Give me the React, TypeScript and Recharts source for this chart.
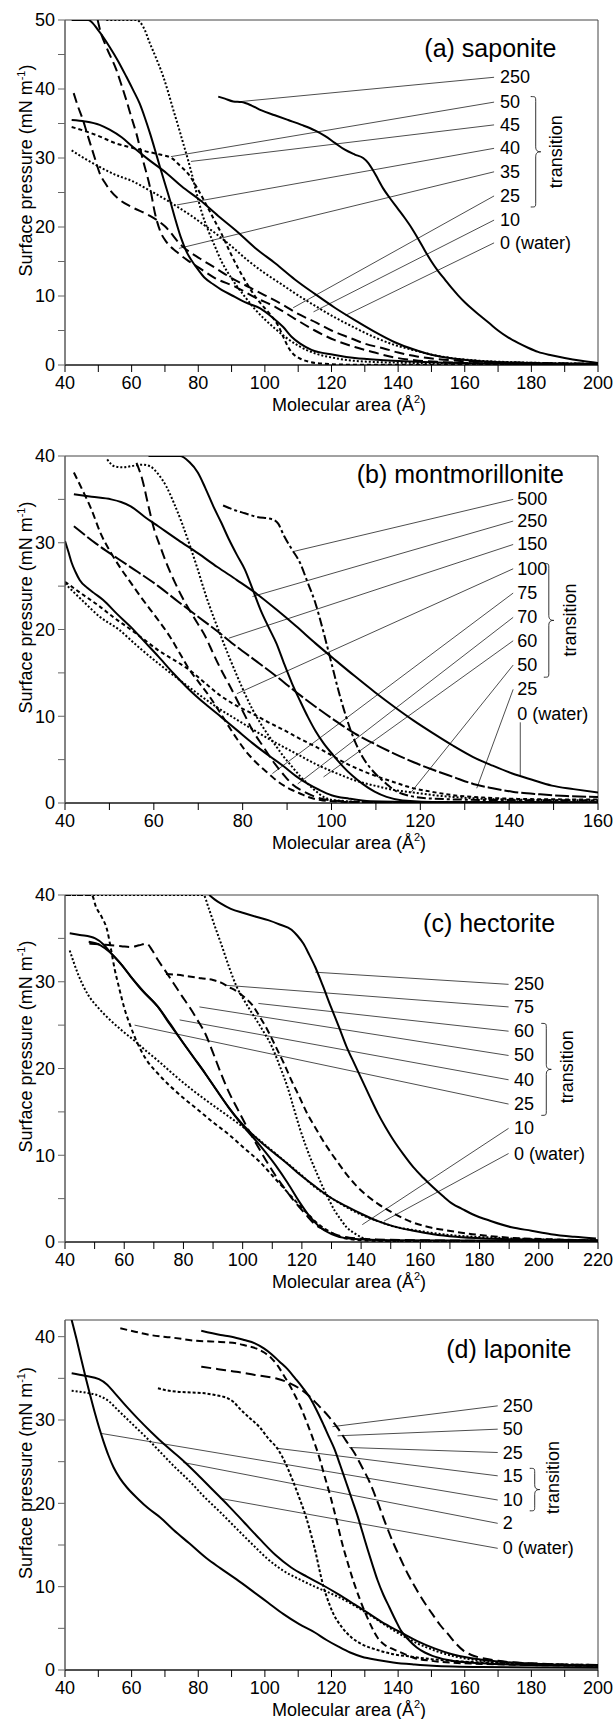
import React from 'react';
import { ComposedChart, Line, XAxis, YAxis, ReferenceLine, ReferenceArea, Scatter } from 'recharts';

type P = [number, number][];

// ---------- (a) saponite ----------
const a250: P = [[86,38.9],[88,38.6],[90.5,38.2],[93,38.1],[96,37.6],[99,36.9],[103,36.2],[107,35.5],[111,34.8],[115,34],[118,33.2],[121,32.2],[124,31.2],[127,30.5],[129.5,30],[131,29.3],[132.5,28.2],[134,26.9],[135.5,25.6],[137.5,24.2],[140,22.6],[142,21.3],[144,19.9],[146,18.3],[148,16.6],[150,15],[152,13.6],[154,12.4],[156,11.2],[158,10.1],[160,9.1],[162.5,8],[165,7],[167.5,6],[170,5],[173,4],[176,3.2],[179,2.5],[182,1.9],[186,1.4],[190,1],[195,0.6],[200,0.3]];
const a50: P = [[42,34.5],[46,33.9],[50,33.2],[55.4,32.1],[60,31.5],[64,31],[68.5,30.5],[72,30],[74.5,28.9],[77,27.7],[79.5,25.8],[82,23.6],[84.5,21.3],[87,19],[89.5,16.4],[92,14],[94.5,11.9],[97,10],[99.5,8.5],[102,7.1],[104,5.7],[105.6,4],[107,2.6],[108.5,1.6],[110.3,1],[113,0.5],[117,0.2],[125,0.05],[200,0]];
const a45: P = [[52.4,50],[61.4,50],[63.5,49],[65.5,46.6],[67.5,44.3],[69.5,41.8],[71,39.5],[72.5,37],[74,34.6],[75.5,32.1],[77,29.6],[78,27.8],[79.5,24.9],[81,22.2],[83,19.5],[85,17.2],[87,15],[89,13.3],[91.5,11.5],[94,9.9],[97,8.1],[100,6.6],[103,5.3],[106,4.1],[110,2.8],[115,1.7],[121,1],[130,0.5],[145,0.3],[200,0.1]];
const a40: P = [[42,31.1],[46,29.9],[50.4,28.7],[55,27.6],[60.4,26.6],[65,25.4],[70.5,23.9],[73.5,23],[78,21.6],[82,20.2],[85.4,19],[90,17.2],[95,15.1],[100,13.3],[105,11.7],[109,10.4],[115,8.6],[121,6.9],[127,5.4],[133,4],[139,2.9],[145,2.1],[151,1.4],[157,0.95],[165,0.6],[175,0.4],[188,0.25],[200,0.15]];
const a35: P = [[49.8,50],[50.5,48.6],[52.5,46],[55.4,42.8],[57,40.5],[58.4,38.4],[60,35.8],[61.4,33.6],[63.5,29.5],[65.5,25.8],[67,22],[68.5,19.5],[70.5,17.8],[73.5,16.4],[77,15.1],[80.5,14],[85,12.6],[91.3,11.3],[97,9.8],[103.2,8.4],[109,6.7],[115,5],[121,3.6],[127,2.6],[133,1.8],[138.8,1.1],[145,0.7],[152,0.45],[165,0.25],[200,0.1]];
const a25: P = [[42.6,39.4],[43.8,37.6],[45.4,35.5],[46.6,33.6],[47.9,31.6],[49.2,29.6],[50.4,27.8],[52,26.4],[53.4,25.4],[56,24.1],[60,22.9],[65.2,21.7],[70,20.1],[75,17.3],[80.6,15.4],[85,14.1],[90,12.6],[95.6,11.2],[100,10.1],[105.5,8.7],[110,7.4],[115.6,6.1],[120,5],[125.7,3.9],[130,3.1],[135.7,2.4],[140,1.8],[146,1.2],[152,0.85],[160,0.55],[175,0.35],[200,0.2]];
const a10: P = [[42,50],[47,50],[50,48.5],[53.4,46.1],[56,44],[58.4,41.8],[60.5,39.8],[62.4,37.9],[64,35.8],[65.5,33.6],[67,31.2],[68.5,28.7],[70,26.3],[71.5,23.9],[73,21.3],[74.7,18.6],[76.5,16.4],[78.2,15],[80,13.8],[82,12.6],[84.5,11.7],[87,10.9],[90.5,10],[94,9.1],[98.6,8.2],[102,7],[105.5,5.5],[108,4.1],[110.6,3.1],[114,2.2],[120.6,1.5],[127,1],[135.7,0.7],[150,0.4],[170,0.2],[200,0.1]];
const a0: P = [[42,35.5],[46,35.3],[50.4,34.8],[53.4,34.1],[57,33],[60.4,31.6],[65,29.8],[70.5,27.8],[75,25.9],[80.5,23.9],[86,21.6],[91.3,19.5],[97,17],[103.2,14.7],[109,12.4],[115,10.3],[121,8.3],[127,6.5],[133,4.8],[139,3.3],[145,2.2],[150.7,1.4],[157,0.9],[165,0.55],[175,0.35],[190,0.2],[200,0.15]];
const labelsA = ['250', '50', '45', '40', '35', '25', '10', '0 (water)'];
const labelYA = [41.7, 38.1, 34.8, 31.4, 28, 24.5, 21, 17.7];
const tipsA: P = [[93.2,38.2],[71.8,30.2],[77.8,29.5],[73.6,23.2],[74.2,16.9],[108.5,8.3],[114.6,7.7],[124.2,7.2]];
const xTicksA = [40,50,60,70,80,90,100,110,120,130,140,150,160,170,180,190,200];
const yTicksA = [0,5,10,15,20,25,30,35,40,45,50];

// ---------- (b) montmorillonite ----------
const b500: P = [[75.6,34.3],[78,33.8],[80.5,33.4],[83,33],[86.7,32.7],[88,32.2],[89.3,30.8],[91,29.3],[92.9,27.7],[94.5,25.6],[96.4,23],[98.2,19.7],[100,16.1],[101.7,12.7],[103.5,9.6],[105.2,7.2],[107,5.3],[108.8,4],[110.6,3],[112.4,2.2],[114.1,1.5],[117,0.9],[123,0.5],[135,0.35],[160,0.3]];
const b250: P = [[58.8,40],[65.9,40],[68,39.3],[69.9,38.1],[71.6,36.3],[73.4,34.2],[75.2,32.3],[76.9,30.4],[78.7,28.6],[80.5,26.9],[82.2,24.7],[84,22.3],[85.8,20.3],[87.6,18.4],[89.3,16.1],[91.1,13.8],[92.9,11.8],[94.7,9.9],[96.4,8.3],[98.2,6.9],[100.4,5.5],[102.6,4.2],[104.8,3.1],[107,2.2],[109.7,1.3],[112.4,0.7],[116,0.3],[125,0.1],[160,0.05]];
const b150: P = [[42,31.9],[47,29.9],[52.1,28.1],[56.5,26.6],[61,25],[65.5,23.2],[69.9,21.5],[74.3,19.8],[78.7,18],[83.2,16.3],[87.6,14.6],[92,12.8],[96.4,11.1],[100.8,9.5],[105.3,8],[109.7,6.8],[114.1,5.7],[118.5,4.7],[123,3.8],[127.4,3],[131.9,2.2],[136.3,1.7],[140.7,1.3],[147,1],[153,0.8],[160,0.7]];
const b100: P = [[56.1,39.2],[57.4,37.3],[58.8,34.2],[60.1,31.5],[61.5,29.5],[62.8,27.7],[64.5,25.7],[66.3,23.8],[69,21.4],[71.6,19.2],[73.4,17.2],[75.2,15.3],[77,13.6],[78.7,11.9],[80.5,10.1],[82.2,8.4],[84.5,6.6],[86.7,4.9],[89,3.4],[91.1,2.2],[93.8,1.3],[96.4,0.7],[100,0.3],[108,0.1],[160,0.05]];
const b75: P = [[49.5,39.6],[51.2,38.8],[53,38.7],[55.7,38.9],[57.5,39],[59.2,38.8],[61,37.9],[62.8,36.5],[64.5,34.6],[66.3,32.3],[68.1,29.7],[69.9,26.9],[71.6,24.1],[73.4,21.5],[75.2,19.1],[76.9,16.9],[78.7,14.7],[80.5,12.6],[82.2,10.8],[84,9.2],[85.8,7.8],[87.6,6.5],[89.3,5.3],[91.1,4.2],[92.9,3.1],[94.7,2.2],[96.4,1.4],[98.2,0.7],[101,0.3],[110,0.1],[160,0.05]];
const b70: P = [[42,38.1],[44,36],[45.9,33.9],[48,31.1],[50.4,28.8],[52.6,27],[54.8,25.4],[57,23.8],[59.2,22.3],[61.4,20.8],[63.6,19.2],[65.9,17.2],[68.1,15.3],[70.3,13.8],[72.5,12.3],[74.7,10.6],[76.9,8.8],[78.7,7.4],[80.5,6.1],[82.2,5.1],[84,4.2],[85.8,3.4],[87.6,2.6],[89.3,2],[91.1,1.5],[92.9,1.1],[94.7,0.7],[98,0.3],[105,0.1],[160,0.05]];
const b60: P = [[40,30.2],[40.8,28.9],[41.5,27.7],[42.4,26.6],[43.3,25.7],[45,24.8],[46.8,24.1],[48.6,23.4],[51.7,21.8],[54.8,20.3],[57.9,18.6],[61,16.9],[64.5,14.9],[68.1,13],[71.6,11.4],[75.2,9.9],[78.7,8.4],[82.2,6.9],[85.8,5.5],[89.3,4.2],[92,3.1],[94.7,2.2],[97.3,1.5],[100,0.9],[104,0.5],[108.8,0.2],[120,0.1],[160,0.05]];
const b50: P = [[40,25.5],[43.8,24.1],[47.7,22.7],[51.2,21.3],[54.8,20],[57.9,18.8],[61,17.6],[64.5,16.5],[68.1,15.3],[71.6,13.8],[75.2,12.3],[78.7,11.2],[82.2,10.3],[85.8,9.3],[89.3,8.4],[92.9,7.4],[96.4,6.5],[100,5.5],[103.5,4.5],[107,3.7],[110.6,3],[114.1,2.4],[117.7,1.8],[122.5,1.3],[127.4,0.9],[135,0.6],[145,0.45],[160,0.4]];
const b25: P = [[40,25.3],[44,23.3],[48,21.4],[52.1,20],[56.5,18],[61,16.1],[65.5,14.3],[69.9,12.6],[74.3,11],[78.7,9.6],[83.2,8.2],[87.6,6.9],[92,5.7],[96.4,4.5],[100.8,3.5],[105.3,2.6],[109.7,2],[114.1,1.5],[118.5,1.2],[123,0.9],[130,0.6],[140,0.4],[160,0.3]];
const b0: P = [[42,35.6],[46,35.3],[50.4,35],[52.6,34.7],[54.8,34.2],[57.9,33],[61,31.9],[65.5,30.3],[69.9,28.8],[74.3,27.2],[78.7,25.7],[83.2,24.1],[87.6,22.3],[92,20.4],[96.4,18.4],[100.8,16.5],[105.3,14.6],[109.7,12.8],[114.1,11.1],[118.5,9.5],[123,8],[127.4,6.6],[131.9,5.3],[136.3,4.3],[140.7,3.4],[145,2.7],[149.6,2],[154.5,1.6],[160,1.2]];
const labelsB = ['500', '250', '150', '100', '75', '70', '60', '50', '25', '0 (water)'];
const labelYB = [35.0, 32.5, 29.8, 27, 24.2, 21.4, 18.7, 15.9, 13.1, 10.3];
const tipsB: P = [[91.5,29],[82.2,23.8],[76.9,19],[78.7,12.6],[86.7,3.4],[92.4,2.2],[98.2,3],[117.7,1.1],[132.7,1.7],[142.5,3.2]];
const xTicksB = [40,50,60,70,80,90,100,110,120,130,140,150,160];
const yTicksB = [0,5,10,15,20,25,30,35,40];

// ---------- (c) hectorite ----------
const c250: P = [[88.7,40],[90.5,39.5],[92.7,39],[96,38.4],[100.6,37.9],[104.5,37.5],[108.6,37.1],[112.5,36.6],[116.5,36],[118.5,35.3],[120.5,34.4],[122.5,33.1],[124.5,31.7],[127,29.6],[129.8,27.1],[132.5,24.8],[135.1,22.5],[137.8,20.5],[140.4,18.6],[143,16.7],[145.7,14.8],[148.3,13.2],[151,11.7],[154.3,10.1],[157.7,8.6],[161,7.4],[164.3,6.3],[167.6,5.3],[170.9,4.4],[174.2,3.8],[177.6,3.2],[184,2.4],[190.8,1.7],[197.5,1.3],[204.1,0.9],[212,0.6],[219.3,0.4]];
const c75: P = [[74.1,30.9],[78,30.8],[82,30.6],[86,30.4],[90,30.2],[92.7,29.9],[95.3,29.4],[98,28.9],[100.6,28.2],[103.3,27.3],[105.9,25.9],[108.6,24.3],[111.2,22.5],[113.9,20.6],[116.5,18.6],[119.2,16.7],[121.8,14.8],[124.5,13.2],[127.1,11.7],[129.8,10.3],[132.5,9],[135.1,7.8],[137.8,6.7],[141.8,5.4],[145.7,4.4],[151,3.3],[156.3,2.4],[163,1.7],[169.6,1.3],[177.6,0.9],[190,0.5],[205,0.3],[220,0.2]];
const c60: P = [[40,40],[86.7,40],[88.5,38.5],[90.5,36.5],[92.7,34.4],[95.3,31.8],[98,29.4],[100.6,27.8],[103.3,26.3],[106.6,24.5],[109.9,22.5],[112.5,20.3],[115.2,17.8],[117.2,15.5],[119.2,13.2],[121.2,11.2],[123.2,9.4],[125.2,7.8],[127.1,6.3],[129.1,4.9],[131.1,3.6],[133.1,2.6],[135.1,1.7],[137.8,1],[140.4,0.5],[145,0.2],[155,0.1],[220,0.05]];
const c50: P = [[48.2,34.4],[52,34.3],[55.5,34.2],[59,34.1],[62.2,34],[65,34.2],[67.5,34.4],[69.5,33.6],[71.4,32.5],[74,31.2],[76.7,29.8],[79.4,28.4],[82,27.1],[84.7,25.6],[87.4,24],[90,21.8],[92.7,19.4],[95.3,17.3],[98,15.5],[100.6,13.8],[103.3,12.1],[106,10.5],[108.6,9],[111.2,7.6],[113.9,6.3],[116.5,5.1],[119.2,4],[121.8,3],[124.5,2],[127.8,1.4],[131.1,0.9],[136,0.5],[145,0.3],[160,0.2],[220,0.1]];
const c40: P = [[48,34.6],[52,34.2],[55.5,33.3],[59,32],[62.2,30.6],[66,29],[71.4,27.1],[75.4,25.2],[79.4,23.2],[83.4,21.3],[87.4,19.4],[91.4,17.4],[95.3,15.5],[100.6,13.2],[105.9,11.1],[111.2,8.8],[115.2,6.8],[119.2,4.6],[122.5,3],[125.8,1.8],[130,0.9],[136,0.4],[150,0.2],[220,0.1]];
const c25: P = [[40,40],[49,40],[50.5,38.6],[52.5,37.4],[54.2,36],[55.5,33.8],[56.8,31.4],[58.2,29.4],[60,27],[62.2,24.8],[64.5,22.9],[67.5,21],[71.4,19.4],[75.4,18],[80,16.6],[84.7,15.3],[90,13.8],[95.3,12.4],[100.6,10.8],[105.9,9.2],[109.9,7.7],[113.9,6.2],[117.9,4.7],[121.8,3.3],[125.8,2],[129.8,1.1],[133.8,0.5],[140,0.2],[150,0.1],[220,0.05]];
const c10: P = [[41.6,33.6],[44.5,30.8],[47.6,28.6],[51.5,26.9],[55.5,25.5],[59.5,24.3],[63.5,23.2],[67.5,22],[71.4,20.9],[76.7,19.3],[82,17.8],[87.4,16.4],[92.7,15.1],[98,13.8],[103.3,12.4],[108.6,10.9],[113.9,9.4],[119.2,7.9],[124.5,6.3],[129.8,5.1],[135.1,4],[140.4,3.1],[145.7,2.4],[151,1.8],[159,1.3],[170,0.8],[185,0.5],[200,0.3],[220,0.2]];
const c0: P = [[41.6,35.6],[45,35.4],[50.2,35],[53,34.3],[55.5,33.3],[59,32],[62.2,30.6],[66.5,28.9],[71.4,27.1],[75.4,25.1],[79.4,23.2],[83.4,21.3],[87.4,19.4],[91.4,17.4],[95.3,15.5],[99.3,13.8],[103.3,12.4],[107.2,11.2],[111.2,10.1],[115.2,9],[119.2,7.8],[124.5,6.4],[129.8,5.1],[135.1,4.1],[140.4,3.2],[145.7,2.4],[151,1.8],[157.7,1.3],[164.3,0.9],[172,0.6],[182,0.4],[195,0.3],[220,0.2]];
const labelsC = ['250', '75', '60', '50', '40', '25', '10', '0 (water)'];
const labelYC = [29.7, 27.1, 24.3, 21.5, 18.7, 15.9, 13.1, 10.2];
const tipsC: P = [[124.5,31.1],[94,29.6],[105.3,27.5],[85.4,27.1],[78.7,25.6],[63.5,25],[140.4,2],[147.7,2.4]];
const xTicksC = [40,50,60,70,80,90,100,110,120,130,140,150,160,170,180,190,200,210,220];
const yTicksC = [0,5,10,15,20,25,30,35,40];

// ---------- (d) laponite ----------
const d250: P = [[80.9,36.4],[86,36.1],[91.4,35.8],[97,35.4],[103.2,35],[107,34.5],[110.3,33.8],[113.2,32.9],[116.2,31.7],[119.2,30.4],[122.1,28.9],[124.4,27.5],[126.8,26.1],[129.1,24.4],[131.5,22.5],[133.8,20.2],[136.2,17.6],[138.5,15.3],[140.9,13.2],[143.2,11.3],[145.6,9.6],[147.9,8.1],[150.3,6.7],[152.6,5.4],[155,4.3],[157.3,3.2],[159.7,2.3],[162,1.8],[164.4,1.5],[170,1.1],[180,0.8],[200,0.6]];
const d50: P = [[80.9,40.7],[86.7,40.2],[90,40],[93.8,39.6],[97,39.2],[99.7,38.6],[102,37.9],[104.4,37],[106.8,36.1],[109.1,35],[111.5,33.8],[113.8,32.5],[115.5,31.2],[117.3,29.7],[119.1,28.1],[120.9,26.5],[122.6,24.6],[124.4,22.5],[126.2,20.4],[127.9,18.4],[129.4,16.4],[130.9,14.4],[132.4,12.5],[133.8,10.8],[135.6,9],[137.4,7.5],[139.2,6],[140.9,4.7],[143.2,3.6],[145.6,2.7],[148,2.1],[150.3,1.7],[155,1.2],[165,0.8],[180,0.6],[200,0.5]];
const d25: P = [[56.6,41],[61,40.6],[65.6,40.2],[72,39.9],[79.5,39.5],[85,39.4],[91.4,39.2],[94.5,38.9],[97.3,38.6],[99.8,38.1],[102,37.4],[103.9,36.5],[105.6,35.4],[107.4,34.2],[109.1,32.9],[110.9,31.4],[112.6,29.7],[114.4,27.8],[116.2,25.7],[117.9,23.3],[119.7,20.8],[121.5,18],[123.2,15.2],[125,12.7],[126.8,10.4],[128.5,8.5],[130.3,6.7],[132,5.2],[133.8,3.9],[136,3],[138.5,2.5],[141.5,2],[144.4,1.5],[150,1.1],[160,0.8],[200,0.5]];
const d15: P = [[67.9,33.8],[70,33.6],[73.8,33.4],[78,33.3],[82,33.2],[85,33],[87.5,32.8],[90.5,32.2],[92.6,31.3],[95,30.4],[98.5,29.1],[101,27.8],[103.9,26.5],[106.2,24.8],[108.4,22.7],[110.4,20.6],[112.4,18.3],[113.9,16.2],[115.3,14],[116.5,11.8],[117.6,10],[118.8,8.5],[120.5,6.8],[123.2,5.1],[126,3.9],[129.1,3.1],[133.8,2.4],[138.5,1.9],[144,1.6],[150,1.3],[160,1],[175,0.8],[200,0.6]];
const d10: P = [[42,42],[43.4,39.8],[44.7,37.6],[46.2,35.1],[47.6,32.9],[49,30.8],[50.3,29],[51.5,27.5],[53,25.8],[54.6,24.3],[56.5,23],[58.6,21.9],[62,20.5],[65,19.4],[68.6,18.3],[72.6,16.8],[77.3,15.2],[82.5,13.4],[86.7,12.2],[91.4,10.9],[96.2,9.5],[100.9,8.1],[105.6,6.7],[110.3,5.5],[115,4.5],[118.5,3.6],[122.1,2.8],[125.6,2.1],[129.1,1.6],[133.8,1.2],[138.5,0.9],[145,0.65],[150.3,0.5],[165,0.35],[185,0.3],[200,0.28]];
const d2: P = [[42,33.5],[46,33.3],[50.2,32.9],[53,32.3],[56.1,31.1],[60,29.6],[64.4,27.9],[68.5,26.2],[72.6,24.5],[77.3,22.7],[82,20.7],[86.7,18.9],[91.4,17],[96.2,15.1],[100.9,13.3],[105.6,11.9],[110.3,10.9],[115,10],[119.7,9.2],[124.4,8.3],[129.1,7.2],[133.8,6],[138.5,4.8],[143.2,3.7],[148,2.8],[152.7,2.1],[157.4,1.6],[163,1.2],[170,0.9],[180,0.7],[200,0.5]];
const d0: P = [[42,35.6],[46,35.3],[50.2,34.9],[52.5,34.3],[55,33.2],[58.5,31.6],[62,30.1],[66,28.5],[70.3,26.9],[75,25.3],[79.7,23.5],[84.4,21.6],[89.1,19.7],[93.8,17.7],[98.5,15.7],[103.2,13.8],[107.9,12.3],[112.6,11.2],[117.3,10.2],[122,9.1],[126.8,7.9],[131.5,6.7],[136.2,5.5],[140.9,4.5],[145.6,3.5],[150.9,2.6],[156.2,1.9],[162,1.4],[168,1.1],[178,0.8],[190,0.6],[200,0.5]];
const labelsD = ['250', '50', '25', '15', '10', '2', '0 (water)'];
const labelYD = [31.7, 28.9, 26.1, 23.3, 20.4, 17.6, 14.6];
const tipsD: P = [[120.3,29.2],[121.8,28.1],[125.3,26.7],[103.8,26.6],[50.7,28.4],[75.5,24.9],[86.5,20.6]];
const xTicksD = [40,50,60,70,80,90,100,110,120,130,140,150,160,170,180,190,200];
const yTicksD = [0,5,10,15,20,25,30,35,40];

// ---------- styles ----------
const SOLID = undefined;
const LONG = '10 5';
const MED = '7 4';
const SHORT = '4 3';
const FINE = '3 2';
const DOT = '2 2';
const DASHDOT = '9 3 3 3';
const LONGTIGHT = '14 3';

const FONT = "'Liberation Sans', Arial, Helvetica, sans-serif";

type Series = { pts: P; dash?: string };
type Cfg = {
  title: string;
  plotTop: number;
  plotH: number;
  xDomain: [number, number];
  yDomain: [number, number];
  xTicks: number[];
  yTicks: number[];
  series: Series[];
  labels: string[];
  labelY: number[];
  tips: P;
  labelX: number;
  leaderX: number;
  verticalLast?: boolean;
  titleAt: [number, number];
  brace: [number, number, number];
  transAt: [number, number];
};

const panels: Cfg[] = [
  {
    title: '(a) saponite', plotTop: 20, plotH: 345, xDomain: [40, 200], yDomain: [0, 50],
    xTicks: xTicksA, yTicks: yTicksA,
    series: [
      { pts: a250, dash: SOLID }, { pts: a50, dash: SHORT }, { pts: a45, dash: DOT }, { pts: a40, dash: DOT },
      { pts: a35, dash: LONG }, { pts: a25, dash: LONG }, { pts: a10, dash: SOLID }, { pts: a0, dash: SOLID },
    ],
    labels: labelsA, labelY: labelYA, tips: tipsA, labelX: 170.6, leaderX: 168.8,
    titleAt: [187.5, 44.6], brace: [181, 38.9, 22.9], transAt: [187.5, 30.9],
  },
  {
    title: '(b) montmorillonite', plotTop: 456, plotH: 347, xDomain: [40, 160], yDomain: [0, 40],
    xTicks: xTicksB, yTicks: yTicksB,
    series: [
      { pts: b500, dash: DASHDOT }, { pts: b250, dash: SOLID }, { pts: b150, dash: LONGTIGHT }, { pts: b100, dash: LONG },
      { pts: b75, dash: DOT }, { pts: b70, dash: MED }, { pts: b60, dash: SOLID }, { pts: b50, dash: SHORT },
      { pts: b25, dash: DOT }, { pts: b0, dash: SOLID },
    ],
    labels: labelsB, labelY: labelYB, tips: tipsB, labelX: 141.8, leaderX: 140.9, verticalLast: true,
    titleAt: [152.3, 36.85], brace: [148.7, 27.6, 14.5], transAt: [153.7, 21.1],
  },
  {
    title: '(c) hectorite', plotTop: 895, plotH: 347, xDomain: [40, 220], yDomain: [0, 40],
    xTicks: xTicksC, yTicks: yTicksC,
    series: [
      { pts: c250, dash: SOLID }, { pts: c75, dash: MED }, { pts: c60, dash: DOT }, { pts: c50, dash: LONG },
      { pts: c40, dash: SOLID }, { pts: c25, dash: SHORT }, { pts: c10, dash: DOT }, { pts: c0, dash: SOLID },
    ],
    labels: labelsC, labelY: labelYC, tips: tipsC, labelX: 191.6, leaderX: 189.8,
    titleAt: [205.5, 35.7], brace: [202.2, 25.2, 14.6], transAt: [209.6, 20.2],
  },
  {
    title: '(d) laponite', plotTop: 1320, plotH: 350, xDomain: [40, 200], yDomain: [0, 42],
    xTicks: xTicksD, yTicks: yTicksD,
    series: [
      { pts: d250, dash: LONG }, { pts: d50, dash: SOLID }, { pts: d25, dash: MED }, { pts: d15, dash: FINE },
      { pts: d10, dash: SOLID }, { pts: d2, dash: DOT }, { pts: d0, dash: SOLID },
    ],
    labels: labelsD, labelY: labelYD, tips: tipsD, labelX: 171.4, leaderX: 169.9,
    titleAt: [192, 37.4], brace: [180.7, 24.2, 19.1], transAt: [186.6, 23.1],
  },
];

const toPts = (p: P) => p.map(([x, y]) => ({ x, y }));

const Brace = (p: any) => {
  const x = p.x1;
  const top = Math.min(p.y1, p.y2);
  const bot = Math.max(p.y1, p.y2);
  const mid = (top + bot) / 2;
  const d = `M ${x - 4} ${top} C ${x + 1} ${top}, ${x + 1} ${top}, ${x + 1} ${top + 5} L ${x + 1} ${mid - 5} C ${x + 1} ${mid - 1}, ${x + 3} ${mid}, ${x + 6} ${mid} C ${x + 3} ${mid}, ${x + 1} ${mid + 1}, ${x + 1} ${mid + 5} L ${x + 1} ${bot - 5} C ${x + 1} ${bot}, ${x + 1} ${bot}, ${x - 4} ${bot}`;
  return <path d={d} fill="none" stroke="#000" strokeWidth={0.8} />;
};

const TextShape = (p: any) => {
  const { cx, cy, payload } = p;
  if (payload.kind === 'title') {
    return <text x={cx} y={cy} textAnchor="end" fontSize={25} fill="#000" fontFamily={FONT}>{payload.t}</text>;
  }
  if (payload.kind === 'trans') {
    return (
      <text x={cx} y={cy} textAnchor="middle" dominantBaseline="central" fontSize={18} fill="#000"
        fontFamily={FONT} transform={`rotate(-90 ${cx} ${cy})`}>{payload.t}</text>
    );
  }
  return <text x={cx} y={cy} textAnchor="start" dominantBaseline="central" fontSize={18} fill="#000" fontFamily={FONT}>{payload.t}</text>;
};

const M_TOP = 30;
const M_BOTTOM = 70;

function Panel({ cfg }: { cfg: Cfg }) {
  const height = cfg.plotH + M_TOP + M_BOTTOM;
  const texts = [
    ...cfg.labels.map((t, i) => ({ x: cfg.labelX, y: cfg.labelY[i], t, kind: 'label' })),
    { x: cfg.titleAt[0], y: cfg.titleAt[1], t: cfg.title, kind: 'title' },
    { x: cfg.transAt[0], y: cfg.transAt[1], t: 'transition', kind: 'trans' },
  ];
  const n = cfg.labels.length;
  return (
    <div style={{ position: 'absolute', left: 0, top: cfg.plotTop - M_TOP, width: 615, height }}>
      <ComposedChart width={615} height={height} margin={{ top: M_TOP, right: 17, bottom: M_BOTTOM - 30, left: 25 }}>
        <XAxis dataKey="x" type="number" domain={cfg.xDomain} ticks={cfg.xTicks} interval={0}
          tickFormatter={(v: number) => (v % 20 === 0 ? String(v) : '')}
          tickSize={7} tickMargin={4} height={30} stroke="#000"
          tick={{ fill: '#000', fontSize: 18, fontFamily: FONT }} allowDataOverflow />
        <YAxis type="number" domain={cfg.yDomain} ticks={cfg.yTicks} interval={0}
          tickFormatter={(v: number) => (v % 10 === 0 ? String(v) : '')}
          tickSize={7} tickMargin={3} width={40} stroke="#666"
          tick={{ fill: '#000', fontSize: 18, fontFamily: FONT }} allowDataOverflow />
        <ReferenceArea x1={cfg.xDomain[0]} x2={cfg.xDomain[1]} y1={cfg.yDomain[0]} y2={cfg.yDomain[1]}
          fill="none" fillOpacity={0} stroke="#444" strokeWidth={1} ifOverflow="visible" />
        {cfg.tips.map((tp, i) => {
          const end = cfg.verticalLast && i === n - 1
            ? { x: tp[0], y: cfg.labelY[i] - 1.0 }
            : { x: cfg.leaderX, y: cfg.labelY[i] };
          return (
            <ReferenceLine key={'l' + i} segment={[{ x: tp[0], y: tp[1] }, end]}
              stroke="#000" strokeWidth={0.7} ifOverflow="visible" />
          );
        })}
        <ReferenceLine segment={[{ x: cfg.brace[0], y: cfg.brace[1] }, { x: cfg.brace[0], y: cfg.brace[2] }]}
          stroke="#000" strokeWidth={0.8} ifOverflow="visible" shape={Brace} />
        {cfg.series.map((s, i) => (
          <Line key={'s' + i} data={toPts(s.pts)} dataKey="y" type="monotone" stroke="#000" strokeWidth={2}
            strokeDasharray={s.dash} dot={false} activeDot={false} isAnimationActive={false} />
        ))}
        <Scatter data={texts} dataKey="y" shape={TextShape} isAnimationActive={false} />
      </ComposedChart>
      <svg width={615} height={height} style={{ position: 'absolute', left: 0, top: 0, pointerEvents: 'none' }}
        fontFamily={FONT}>
        <text x={349} y={M_TOP + cfg.plotH + 46} textAnchor="middle" fontSize={18} fill="#000">
          Molecular area (Å<tspan fontSize={11} dy={-8}>2</tspan><tspan dy={8}>)</tspan>
        </text>
        <text transform={`translate(32 ${M_TOP + cfg.plotH / 2 - 22}) rotate(-90)`} textAnchor="middle" fontSize={18} fill="#000">
          Surface pressure (mN m<tspan fontSize={11} dy={-7}>-1</tspan><tspan dy={7}>)</tspan>
        </text>
      </svg>
    </div>
  );
}

export default function App() {
  return (
    <div style={{ position: 'absolute', left: 0, top: 0, width: 615, height: 1719, background: '#fff', fontFamily: FONT }}>
      {panels.map((cfg, i) => (
        <Panel key={i} cfg={cfg} />
      ))}
    </div>
  );
}
